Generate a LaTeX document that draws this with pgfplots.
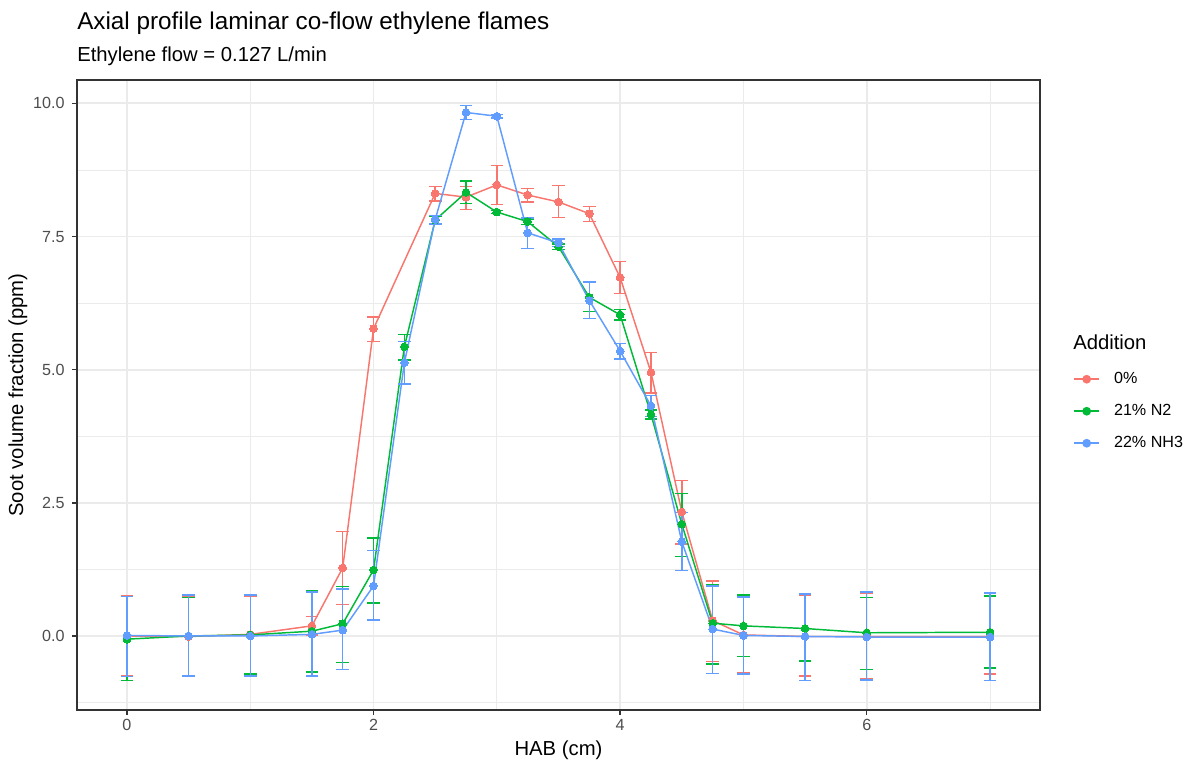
\documentclass[border=0pt]{standalone}
\usepackage{fontspec}
\setmainfont{Liberation Sans}
\usepackage{pgfplots}
\usepackage{pgfplotstable}
\pgfplotsset{compat=1.18}

\definecolor{c0}{HTML}{F8766D}
\definecolor{c21}{HTML}{00BA38}
\definecolor{c22}{HTML}{619CFF}
\definecolor{gridc}{HTML}{EBEBEB}
\definecolor{grey20}{HTML}{333333}
\definecolor{grey30}{HTML}{4D4D4D}

% HAB, soot volume fraction, error plus, error minus
\pgfplotstableread{
x     y      ep    em
0     0.00   0.75  0.75
0.5   -0.01  0.76  0.74
1     0.03   0.72  0.75
1.5   0.19   0.18  0.17
1.75  1.28   0.68  0.69
2     5.77   0.22  0.24
2.5   8.31   0.13  0.14
2.75  8.24   0.20  0.23
3     8.47   0.36  0.37
3.25  8.28   0.12  0.13
3.5   8.15   0.31  0.29
3.75  7.93   0.13  0.15
4     6.73   0.30  0.30
4.25  4.95   0.37  0.39
4.5   2.33   0.59  0.60
4.75  0.29   0.74  0.77
5     0.02   0.73  0.71
5.5   -0.01  0.78  0.74
6     -0.01  0.82  0.80
7     -0.01  0.76  0.70
}\tabzero

\pgfplotstableread{
x     y      ep    em
0     -0.06  0.80  0.78
0.5   0.00   0.72  0.75
1     0.02   0.75  0.73
1.5   0.09   0.76  0.77
1.75  0.23   0.70  0.73
2     1.24   0.60  0.62
2.25  5.43   0.23  0.25
2.5   7.81   0.07  0.07
2.75  8.33   0.21  0.21
3     7.96   0.03  0.03
3.25  7.78   0.05  0.05
3.5   7.31   0.05  0.05
3.75  6.36   0.29  0.27
4     6.03   0.10  0.10
4.25  4.16   0.08  0.09
4.5   2.10   0.58  0.61
4.75  0.24   0.72  0.77
5     0.19   0.58  0.58
5.5   0.14   0.65  0.61
6     0.06   0.66  0.69
7     0.07   0.68  0.67
}\tabnitro

\pgfplotstableread{
x     y      ep    em
0     0.01   0.73  0.77
0.5   0.00   0.77  0.75
1     0.00   0.77  0.75
1.5   0.03   0.80  0.78
1.75  0.11   0.77  0.74
2     0.94   0.66  0.64
2.25  5.13   0.40  0.40
2.5   7.82   0.08  0.08
2.75  9.83   0.13  0.13
3     9.76   0.03  0.03
3.25  7.57   0.28  0.29
3.5   7.38   0.07  0.07
3.75  6.30   0.35  0.34
4     5.35   0.14  0.15
4.25  4.32   0.20  0.20
4.5   1.77   0.55  0.54
4.75  0.13   0.81  0.83
5     0.01   0.72  0.72
5.5   -0.01  0.80  0.83
6     -0.02  0.85  0.81
7     -0.02  0.83  0.82
}\tabammonia

\pgfplotsset{
  series/.style={
    line width=1.1pt, color=#1, mark=*,
    mark options={solid, fill=#1, draw=#1, line width=0pt},
    mark size=2.9pt,
    error bars/y dir=both, error bars/y explicit,
    error bars/error bar style={line width=1.1pt, color=#1},
    error bars/error mark options={rotate=90, mark size=4.75pt, line width=1.1pt, color=#1},
  },
}

\begin{document}
\begin{tikzpicture}
\useasboundingbox (-57.75pt,-42.75pt) rectangle (839.25pt,532.5pt);
\begin{axis}[
  scale only axis,
  width=722.25pt, height=472.5pt,
  xmin=-0.405, xmax=7.405,
  ymin=-1.39, ymax=10.44,
  xtick={0,2,4,6},
  ytick={0,2.5,5,7.5,10},
  minor xtick={1,3,5,7},
  minor ytick={-1.25,1.25,3.75,6.25,8.75},
  grid=both,
  major grid style={draw=gridc, line width=1.4pt},
  minor grid style={draw=gridc, line width=0.7pt},
  axis line style={draw=grey20, line width=1.1pt},
  tick align=outside,
  major tick length=3.75pt,
  minor tick length=0pt,
  tick style={draw=grey20, line width=1.1pt},
  xtick pos=bottom, ytick pos=left,
  /pgf/number format/assume math mode=true,
  tick label style={font=\fontsize{12.1}{14}\selectfont, text=grey30},
  yticklabel style={xshift=-2pt, /pgf/number format/.cd, fixed, fixed zerofill, precision=1},
  xticklabel style={/pgf/number format/.cd, fixed, precision=0},
  xlabel={HAB (cm)},
  ylabel={Soot volume fraction (ppm)},
  label style={font=\fontsize{15.2}{18}\selectfont},
  xlabel style={at={(axis description cs:0.5,-0.0635)}, anchor=center},
  ylabel style={at={(axis description cs:-0.0613,0.5)}, anchor=center},
  legend cell align=left,
  legend image post style={/tikz/line width=1.3pt},
  legend image code/.code={
    \draw[#1, /tikz/line width=1.3pt] (0pt,0pt) -- (18.75pt,0pt);
    \fill[#1] (9.4pt,0pt) circle[radius=2.6pt];
  },
  legend style={at={(axis description cs:1.0343,0.5373)}, anchor=north west,
    draw=none, fill=none, inner sep=0pt,
    font=\fontsize{12.1}{14}\selectfont,
    row sep=12.8pt,
    nodes={inner sep=0pt, text height=8.7pt, text depth=2.5pt},
    /tikz/every odd column/.append style={column sep=10.5pt},
    /tikz/every even column/.append style={column sep=0pt}},
]
\addplot[series=c0] table[x=x, y=y, y error plus=ep, y error minus=em] {\tabzero};
\addlegendentry{0\%}
\addplot[series=c21] table[x=x, y=y, y error plus=ep, y error minus=em] {\tabnitro};
\addlegendentry{21\% N2}
\addplot[series=c22] table[x=x, y=y, y error plus=ep, y error minus=em] {\tabammonia};
\addlegendentry{22\% NH3}
\end{axis}
\node[anchor=base west, inner sep=0pt, font=\fontsize{18.2}{21}\selectfont] at (0pt,510pt) {Axial profile laminar co-flow ethylene flames};
\node[anchor=base west, inner sep=0pt, font=\fontsize{15.2}{18}\selectfont] at (0pt,486pt) {Ethylene flow = 0.127 L/min};
\node[anchor=west, inner sep=0pt, font=\fontsize{15.2}{18}\selectfont] at (747pt,276pt) {Addition};
\end{tikzpicture}
\end{document}
